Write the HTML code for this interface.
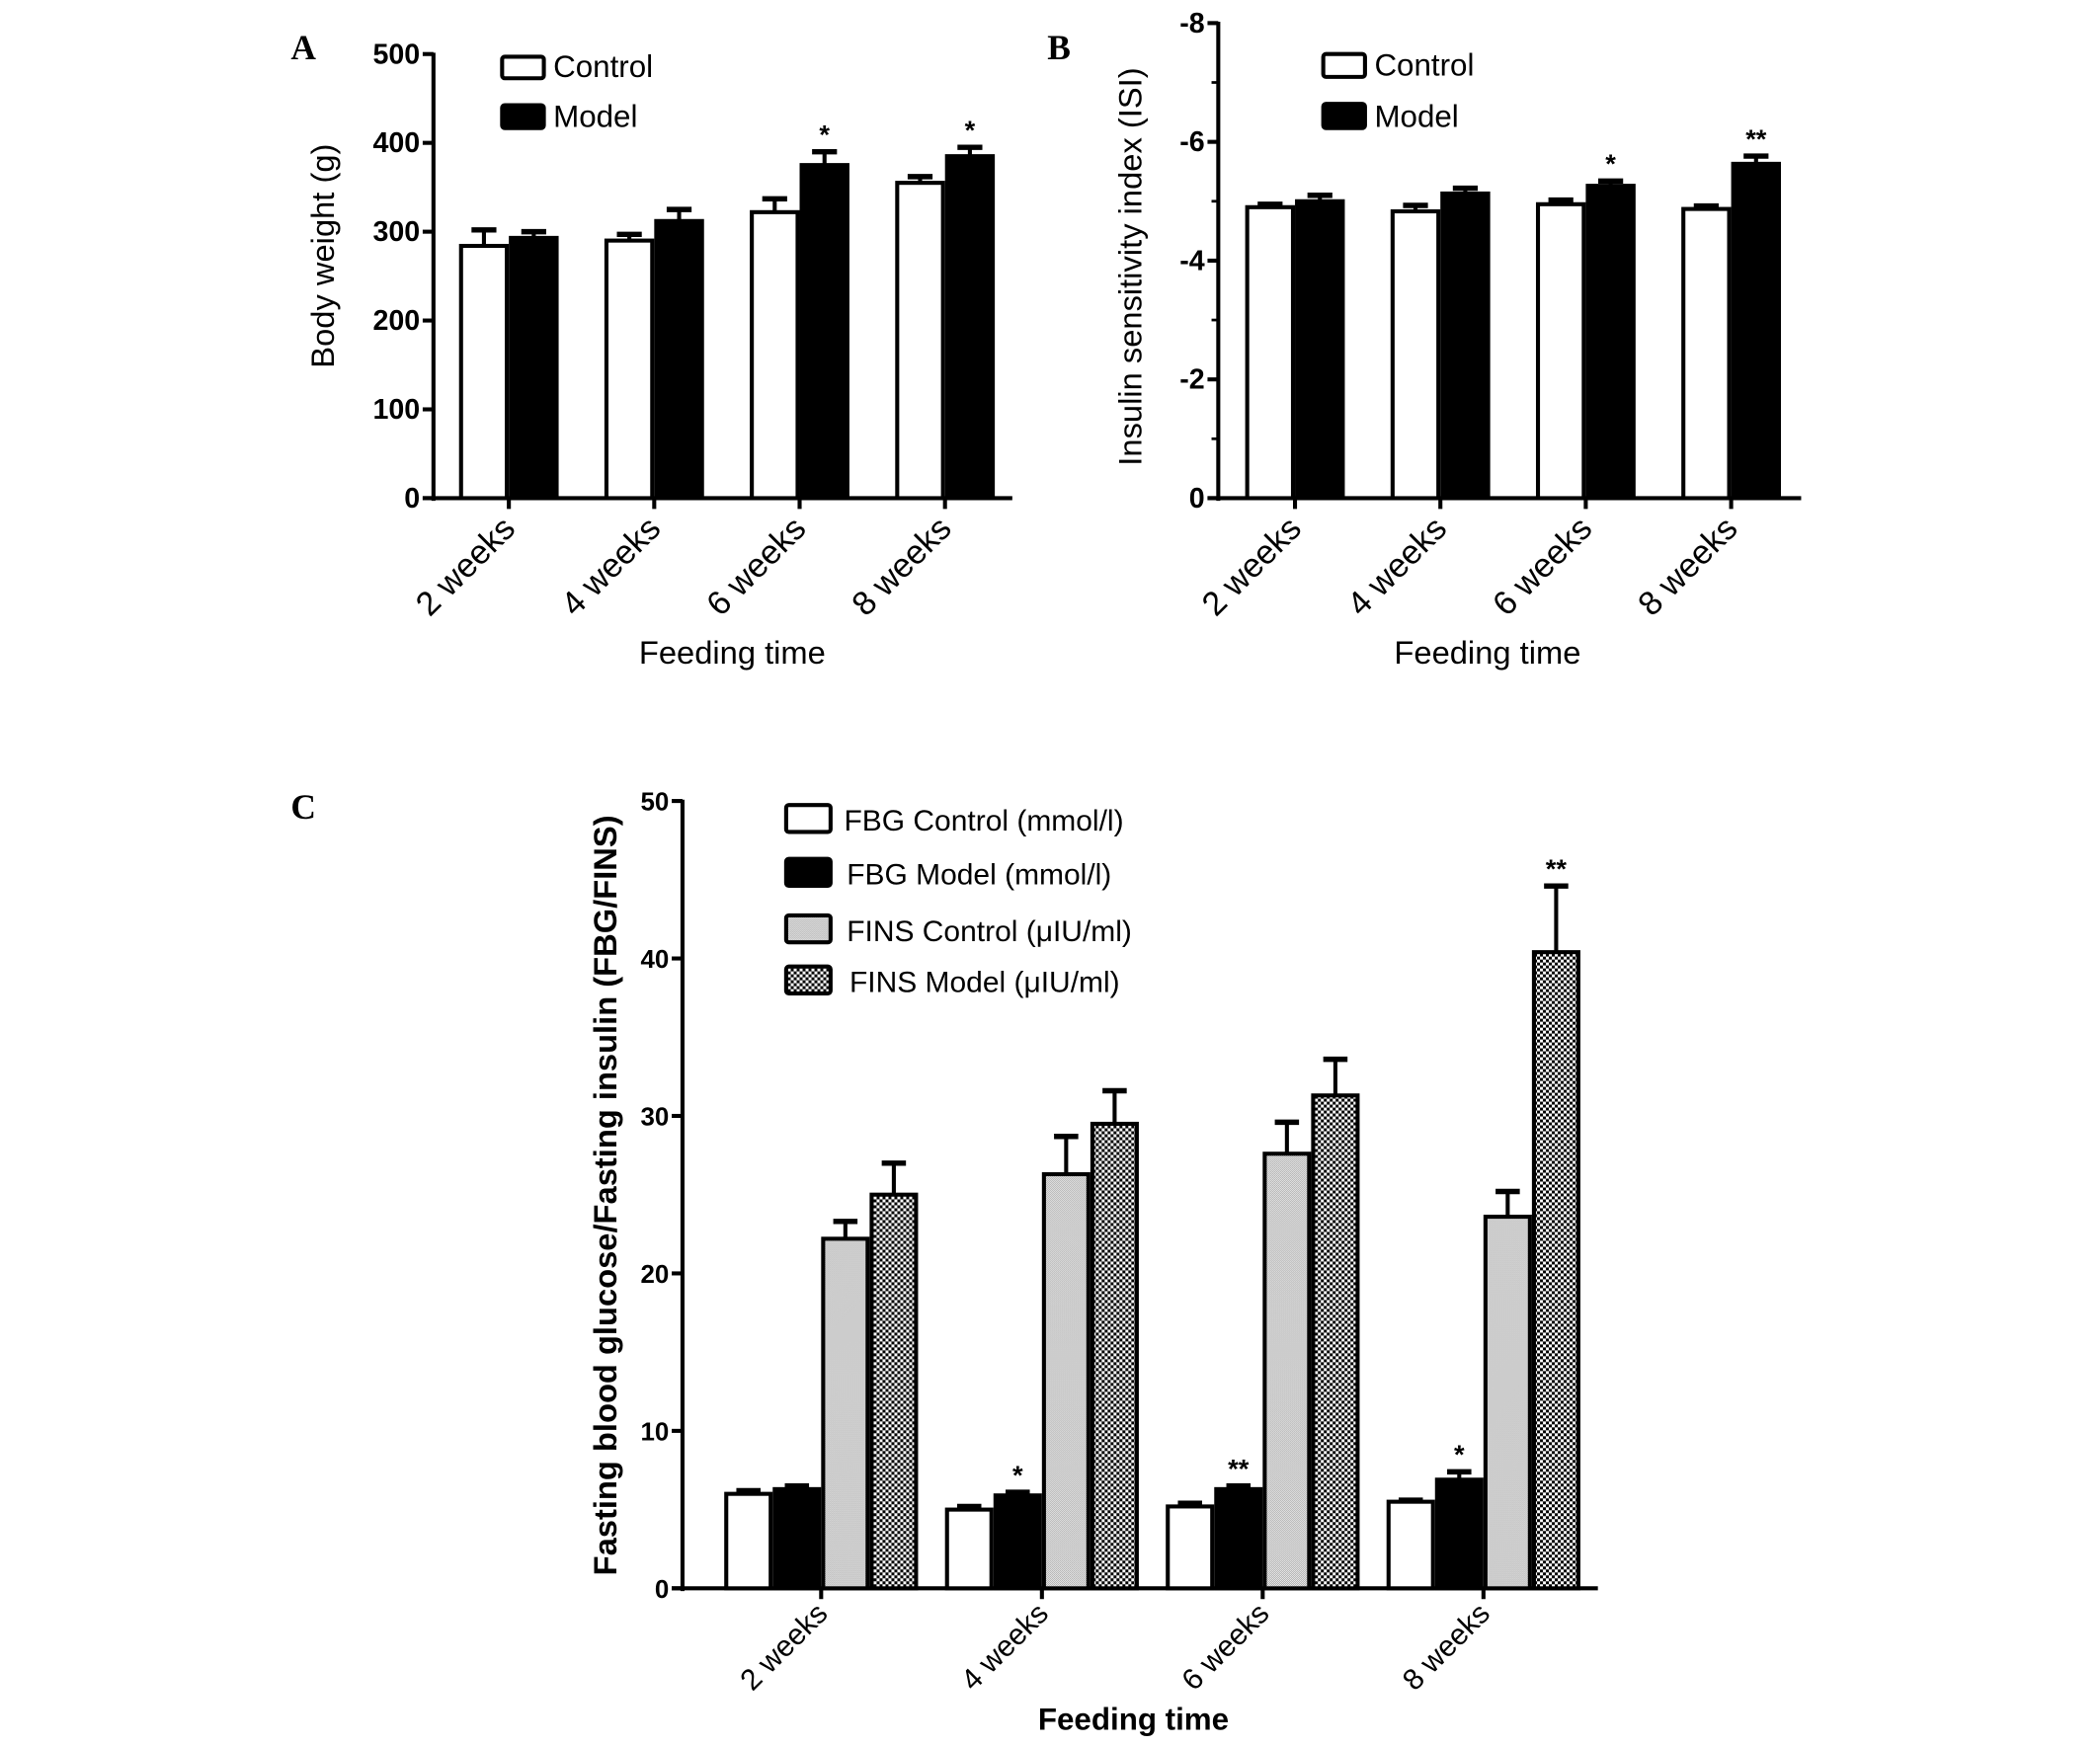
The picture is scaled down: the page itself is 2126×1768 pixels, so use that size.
<!DOCTYPE html>
<html><head><meta charset="utf-8"><style>
html,body{margin:0;padding:0;background:#fff}
svg{display:block}
text{font-family:"Liberation Sans",sans-serif;fill:#000}
</style></head><body>
<svg id="fig" xmlns="http://www.w3.org/2000/svg" width="2126" height="1768" viewBox="0 0 1560 1297">
<defs>
<pattern id="dots" width="1.47" height="1.47" patternUnits="userSpaceOnUse"><rect width="1.47" height="1.47" fill="#fff"/><rect width="0.735" height="0.735" fill="#999"/><rect x="0.735" y="0.735" width="0.735" height="0.735" fill="#999"/></pattern>
<pattern id="checker" width="4.4" height="4.4" patternUnits="userSpaceOnUse"><rect width="4.4" height="4.4" fill="#fff"/><rect width="2.2" height="2.2" fill="#000"/><rect x="2.2" y="2.2" width="2.2" height="2.2" fill="#000"/></pattern>
</defs>
<rect width="1560" height="1297" fill="#fff"/>
<g id="gA"></g>
<g id="gB"></g>
<g id="gC"></g>
</svg>
<script>
const categories = ["2 weeks","4 weeks","6 weeks","8 weeks"];
const aControl = [284, 290, 322, 355];
const aControlErr = [18, 7, 15, 7];
const aModel = [293, 312, 375, 385];
const aModelErr = [7, 13, 15, 10];
const aSig = ["", "", "*", "*"];
const aTicks = [0,100,200,300,400,500];

const bControl = [-4.9, -4.83, -4.95, -4.87];
const bControlErr = [0.05, 0.1, 0.07, 0.05];
const bModel = [-5.0, -5.13, -5.26, -5.63];
const bModelErr = [0.1, 0.09, 0.08, 0.13];
const bSig = ["", "", "*", "**"];
const bTicks = [0,-2,-4,-6,-8];

const cFbgControl = [6.0, 5.0, 5.2, 5.5];
const cFbgControlErr = [0.2, 0.2, 0.2, 0.1];
const cFbgModel = [6.3, 5.9, 6.3, 6.9];
const cFbgModelErr = [0.2, 0.2, 0.2, 0.5];
const cFinsControl = [22.2, 26.3, 27.6, 23.6];
const cFinsControlErr = [1.1, 2.4, 2.0, 1.6];
const cFinsModel = [25.0, 29.5, 31.3, 40.4];
const cFinsModelErr = [2.0, 2.1, 2.3, 4.2];
const cSigFbg = ["", "*", "**", "*"];
const cSigFins = ["", "", "", "**"];
const cTicks = [0,10,20,30,40,50];
const cLegend = ["FBG Control (mmol/l)","FBG Model (mmol/l)","FINS Control  (\u03bcIU/ml)","FINS Model  (\u03bcIU/ml)"];

const NS="http://www.w3.org/2000/svg";
function mk(parent, tag, attrs, txt){const e=document.createElementNS(NS,tag);for(const k in attrs)e.setAttribute(k,attrs[k]);if(txt!==undefined)e.textContent=txt;parent.appendChild(e);return e;}

function errBar(g,x,yTop,yErr,w){
  const l=mk(g,'line',{x1:x,x2:x,y1:yTop,y2:yErr,stroke:'#000','stroke-width':3});
  
  
  const c=mk(g,'line',{x1:x-w,x2:x+w,y1:yErr,y2:yErr,stroke:'#000','stroke-width':4});
  
  
}

function panel(g, o){
  const ys=v=>o.y0+(v-o.vmin)/(o.vmax-o.vmin)*(o.y1-o.y0);
  const ya=mk(g,'line',{x1:o.ax,x2:o.ax,y1:o.y1-1,y2:o.y0+2,stroke:'#000','stroke-width':3});
  
  
  const xa=mk(g,'line',{x1:o.ax-8,x2:o.axEnd,y1:o.y0,y2:o.y0,stroke:'#000','stroke-width':3});
  
  
  o.ticks.forEach(t=>{
    const y=ys(t);
    mk(g,'line',{x1:o.ax-8,x2:o.ax,y1:y,y2:y,stroke:'#000','stroke-width':3});
    const tl=mk(g,'text',{x:o.ax-10,y:y+7,'text-anchor':'end','font-size':o.tickFs,'font-weight':'bold'},String(t));
    
    
  });
  (o.minor||[]).forEach(t=>{const y=ys(t);mk(g,'line',{x1:o.ax-5,x2:o.ax,y1:y,y2:y,stroke:'#000','stroke-width':2});});
  categories.forEach((c,i)=>{
    const cx=o.cat[i];
    mk(g,'line',{x1:cx,x2:cx,y1:o.y0,y2:o.y0+8,stroke:'#000','stroke-width':3});
    const t=mk(g,'text',{x:0,y:0,'text-anchor':'end','font-size':o.catFs,transform:`translate(${cx+o.lblDx},${o.y0+o.lblDy}) rotate(-45)`},c);
    
    
    const n=o.series.length, left=cx-o.bw*n/2;
    o.series.forEach((s,j)=>{
      const x=left+j*o.bw, v=s.vals[i], yt=ys(v), ye=ys(v+ (o.vmax<0?-1:1)*s.err[i]);
      errBar(g,x+o.bw/2,yt,ye,o.bw*0.25);
      const r=mk(g,'rect',{x:x+1.5,y:yt,width:o.bw-3,height:o.y0-yt,fill:s.fill,stroke:'#000','stroke-width':3});
      
      
      if(s.sig && s.sig[i]){
        const st=mk(g,'text',{x:x+o.bw/2,y:ye-6,'text-anchor':'middle','font-size':20,'font-weight':'bold'},s.sig[i]);
        
        
      }
    });
  });
  o.legend.forEach((L,k)=>{
    const lr=mk(g,'rect',{x:L.x,y:L.y,width:L.w,height:L.h,fill:L.fill,stroke:'#000','stroke-width':3,rx:2});
    
    
    const lt=mk(g,'text',{x:L.x+L.w+L.gap,y:L.y+L.h-1,'font-size':o.legFs},L.label);
    
    
  });
  const yt=mk(g,'text',{x:0,y:0,'text-anchor':'middle','font-size':o.ytFs,'font-weight':o.titleBold?'bold':'normal',transform:`translate(${o.ytx},${o.yty}) rotate(-90)`},o.ytitle);
  
  
  const xt=mk(g,'text',{x:o.xtx,y:o.xty,'text-anchor':'middle','font-size':o.xtFs,'font-weight':o.titleBold?'bold':'normal'},'Feeding time');
  
  
  const pl=mk(g,'text',{x:o.lx,y:o.ly,'font-size':26,'font-weight':'bold',style:'font-family:"Liberation Serif",serif'},o.letter);
  
  
}

panel(document.getElementById('gA'),{
  ax:322, axEnd:752, y0:370, y1:40, vmin:0, vmax:500, ticks:aTicks, tickFs:21, catFs:25, lblDx:6, lblDy:24,
  cat:[378,486,594,702], bw:37,
  series:[{key:'control',vals:aControl,err:aControlErr,fill:'#fff'},{key:'model',vals:aModel,err:aModelErr,fill:'#000',sig:aSig}],
  legend:[{x:373,y:42,w:31,h:16,gap:7,fill:'#fff',label:'Control'},{x:373,y:78,w:31,h:17,gap:7,fill:'#000',label:'Model'}],
  legFs:23, ytitle:'Body weight (g)', ytFs:24, ytx:248, yty:190, xtx:544, xty:493, xtFs:24, lx:216, ly:44, letter:'A'
});
panel(document.getElementById('gB'),{
  ax:905, axEnd:1338, y0:370, y1:17, vmin:0, vmax:-8, ticks:bTicks, minor:[-1,-3,-5,-7], tickFs:21, catFs:25, lblDx:6, lblDy:24,
  cat:[962,1070,1178,1286], bw:37,
  series:[{key:'control',vals:bControl,err:bControlErr,fill:'#fff'},{key:'model',vals:bModel,err:bModelErr,fill:'#000',sig:bSig}],
  legend:[{x:983,y:40,w:31,h:17,gap:7,fill:'#fff',label:'Control'},{x:983,y:77,w:31,h:18,gap:7,fill:'#000',label:'Model'}],
  legFs:23, ytitle:'Insulin sensitivity index (ISI)', ytFs:24, ytx:848, yty:198, xtx:1105, xty:493, xtFs:24, lx:778, ly:44, letter:'B'
});
panel(document.getElementById('gC'),{
  ax:507, axEnd:1187, y0:1180, y1:595, vmin:0, vmax:50, ticks:cTicks, tickFs:19, catFs:22, lblDx:6, lblDy:20,
  cat:[610,774,938,1102], bw:36,
  series:[{key:'fbg-control',vals:cFbgControl,err:cFbgControlErr,fill:'#fff'},
          {key:'fbg-model',vals:cFbgModel,err:cFbgModelErr,fill:'#000',sig:cSigFbg},
          {key:'fins-control',vals:cFinsControl,err:cFinsControlErr,fill:'url(#dots)'},
          {key:'fins-model',vals:cFinsModel,err:cFinsModelErr,fill:'url(#checker)',sig:cSigFins}],
  legend:[{x:584,y:598,w:33,h:20,gap:10,fill:'#fff',label:cLegend[0]},
          {x:584,y:638,w:33,h:20,gap:12,fill:'#000',label:cLegend[1]},
          {x:584,y:680,w:33,h:20,gap:12,fill:'url(#dots)',label:cLegend[2]},
          {x:584,y:718,w:33,h:20,gap:14,fill:'url(#checker)',label:cLegend[3]}],
  legFs:22, ytitle:'Fasting blood glucose/Fasting insulin (FBG/FINS)', ytFs:24, titleBold:true, ytx:458, yty:888, xtx:842, xty:1285, xtFs:23, lx:216, ly:608, letter:'C'
});
</script>
</body></html>
